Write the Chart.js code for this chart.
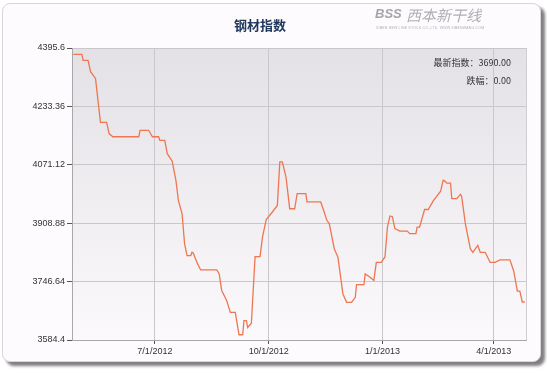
<!DOCTYPE html>
<html>
<head>
<meta charset="utf-8">
<script src="https://cdn.jsdelivr.net/npm/chart.js@4/dist/chart.umd.min.js"></script>
<style>
  html, body { margin: 0; padding: 0; background: #ffffff; }
  #wrap { position: relative; width: 547px; height: 376px; overflow: hidden; font-family: "Liberation Sans", "Noto Sans CJK SC", sans-serif; }
  #card { position: absolute; left: 2px; top: 3px; width: 537px; height: 357px; border: 1px solid #d8d6da; border-radius: 8px;
          background: #fdfbfd; box-shadow: 4px 4px 3px rgba(0,0,0,0.5); }
  #chart { position: absolute; left: 0; top: 0; }
  .txt { position: absolute; white-space: nowrap; }
  #title { left: 0; width: 520px; top: 15px; text-align: center; font: bold 13px "Noto Sans CJK SC", sans-serif; color: #22395e; }
  #logo { left: 406px; top: 4px; font: italic 15px "Noto Sans CJK SC", sans-serif; color: #aeaeb4; letter-spacing: 0px; }
  #logoIcon { left: 375px; top: 6px; font: bold italic 13px "Liberation Sans", sans-serif; color: #a4a4ac; }
  #logoSub { left: 376px; top: 26px; font: 3.5px "Liberation Sans", sans-serif; color: #b0b0b4; letter-spacing: 0.2px; }
  .note { right: 36px; font: 9px "Noto Sans CJK SC", sans-serif; color: #333333; }
</style>
</head>
<body>
<div id="wrap">
  <div id="card"></div>
  <canvas id="chart" width="547" height="376"></canvas>
  <div class="txt" id="title">钢材指数</div>
  <div class="txt" id="logoIcon">BSS</div>
  <div class="txt" id="logo">西本新干线</div>
  <div class="txt" id="logoSub">XIBEN NEW LINE STOCK CO.,LTD.     WWW.XIBENWANG.COM</div>
  <div class="txt note" style="top:56px;">最新指数：3690.00</div>
  <div class="txt note" style="top:74px;">跌幅：0.00</div>
</div>
<script>
// Days counted from 2012-04-25
const dayOffsets = [1, 8, 9, 13, 15, 19, 23, 28, 30, 33, 54, 55, 62, 65, 70, 71, 75, 77, 81, 84,
  86, 89, 91, 93, 96, 97, 98, 101, 104, 117, 119, 121, 125, 128, 132, 135, 138, 139, 141, 142,
  145, 148, 152, 154, 157, 162, 166, 168, 170, 173, 176, 180, 182, 189, 190, 201, 203, 206, 208, 212,
  215, 219, 222, 226, 229, 230, 236, 237, 241, 244, 246, 250, 253, 255, 257, 259, 261, 265, 271, 273,
  278, 279, 281, 285, 288, 292, 298, 300, 301, 303, 306, 307, 311, 314, 315, 318, 322, 324, 328, 330,
  334, 338, 342, 346, 354, 357, 360, 362, 364, 366];
const indexValues = [4378, 4378, 4361, 4361, 4330, 4311, 4189, 4189, 4158, 4149, 4149, 4167, 4167, 4149, 4149, 4139, 4139, 4102, 4081, 4028,
  3972, 3935, 3852, 3819, 3819, 3828, 3826, 3800, 3779, 3779, 3768, 3722, 3694, 3661, 3661, 3599, 3599, 3638, 3638, 3619,
  3631, 3816, 3816, 3870, 3919, 3940, 3958, 4079, 4079, 4037, 3949, 3949, 3991, 3991, 3968, 3968, 3949, 3917, 3907, 3838,
  3814, 3712, 3689, 3689, 3703, 3738, 3738, 3768, 3759, 3750, 3800, 3800, 3815, 3898, 3929, 3927, 3894, 3887, 3887, 3880,
  3880, 3898, 3898, 3947, 3947, 3971, 3998, 4028, 4027, 4020, 4020, 3977, 3977, 3989, 3983, 3907, 3838, 3828, 3847, 3828,
  3828, 3800, 3800, 3807, 3807, 3777, 3720, 3720, 3690, 3690];
const xTickDays = [67, 159, 251, 341];
const xTickLabels = ['7/1/2012', '10/1/2012', '1/1/2013', '4/1/2013'];
const yTickValues = [3584.4, 3746.64, 3908.88, 4071.12, 4233.36, 4395.6];
const yTickLabels = ['3584.4', '3746.64', '3908.88', '4071.12', '4233.36', '4395.6'];

const points = dayOffsets.map((d, i) => ({ x: d, y: indexValues[i] }));

const plotBg = {
  id: 'plotBg',
  beforeDraw(chart) {
    const { ctx, chartArea: a } = chart;
    const g = ctx.createLinearGradient(0, a.top, 0, a.bottom);
    g.addColorStop(0, '#e3e1e5');
    g.addColorStop(1, '#fbf9fb');
    ctx.save();
    ctx.fillStyle = g;
    ctx.fillRect(a.left, a.top, a.right - a.left, a.bottom - a.top);
    ctx.restore();
  },
  afterDatasetsDraw(chart) {
    const { ctx, chartArea: a } = chart;
    ctx.save();
    ctx.strokeStyle = '#cfcdd1';
    ctx.lineWidth = 1;
    ctx.beginPath();
    ctx.moveTo(a.right + 0.5, a.top);
    ctx.lineTo(a.right + 0.5, a.bottom);
    ctx.stroke();
    ctx.restore();
  }
};

new Chart(document.getElementById('chart'), {
  type: 'line',
  data: {
    datasets: [{
      data: points,
      borderColor: '#ee7652',
      borderWidth: 1.3,
      pointRadius: 0,
      tension: 0,
      fill: false
    }]
  },
  options: {
    responsive: false,
    animation: false,
    layout: { padding: { left: 0, top: 48, right: 21, bottom: 14 } },
    plugins: { legend: { display: false }, tooltip: { enabled: false }, title: { display: false } },
    scales: {
      x: {
        type: 'linear',
        min: 0,
        max: 367,
        afterBuildTicks(scale) { scale.ticks = xTickDays.map(v => ({ value: v })); },
        afterFit(scale) { scale.height = 22; },
        ticks: {
          autoSkip: false,
          maxRotation: 0,
          padding: 2,
          color: '#333333',
          font: { family: 'Liberation Sans', size: 9 },
          callback: (v) => { const i = xTickDays.indexOf(v); return i >= 0 ? xTickLabels[i] : ''; }
        },
        grid: { color: '#c9c7cb', lineWidth: 1, tickLength: 4, tickColor: '#555555' },
        border: { color: '#a9a7ab', width: 1 }
      },
      y: {
        type: 'linear',
        min: yTickValues[0],
        max: yTickValues[yTickValues.length - 1],
        afterBuildTicks(scale) { scale.ticks = yTickValues.map(v => ({ value: v })); },
        afterFit(scale) { scale.width = 72; },
        ticks: {
          autoSkip: false,
          padding: 2,
          color: '#333333',
          font: { family: 'Liberation Sans', size: 9 },
          callback: (v) => { const i = yTickValues.indexOf(v); return i >= 0 ? yTickLabels[i] : ''; }
        },
        grid: { color: '#c9c7cb', lineWidth: 1, tickLength: 5, tickColor: '#555555' },
        border: { color: '#a9a7ab', width: 1 }
      }
    }
  },
  plugins: [plotBg]
});
</script>
</body>
</html>
